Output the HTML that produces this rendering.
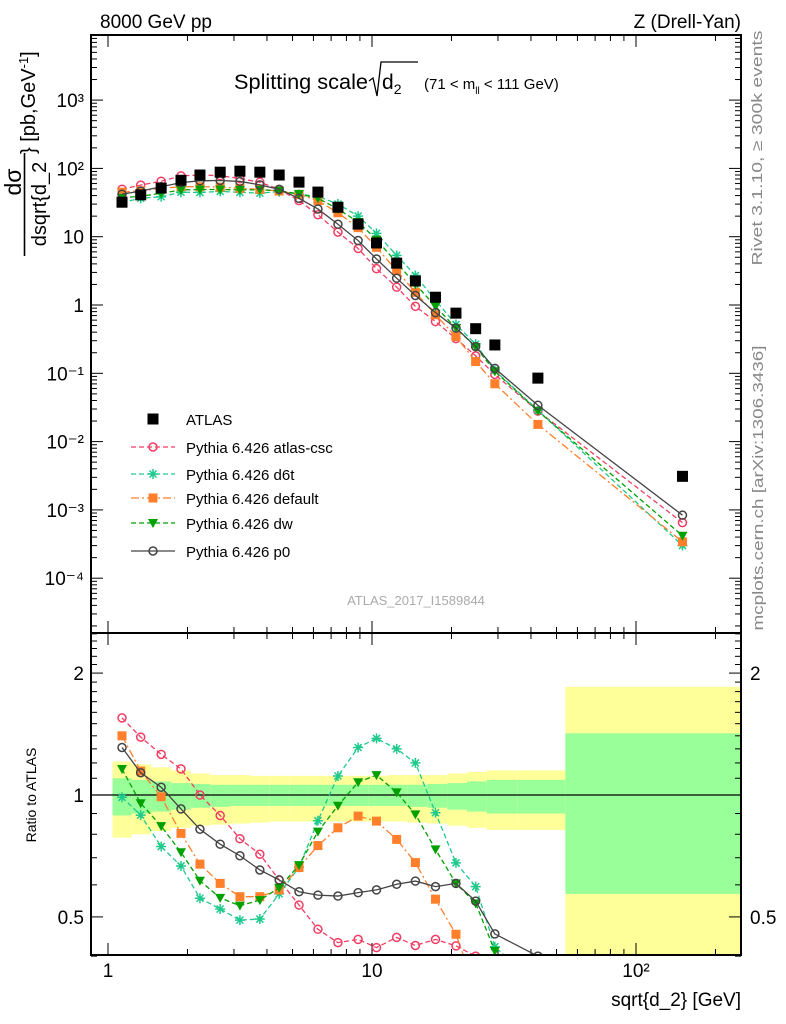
<!DOCTYPE html>
<html><head><meta charset="utf-8"><style>
html,body{margin:0;padding:0;background:#fff;width:786px;height:1024px;overflow:hidden}
svg{display:block;font-family:"Liberation Sans",sans-serif}
</style></head><body>
<svg id="c" width="786" height="1024" viewBox="0 0 786 1024" xmlns="http://www.w3.org/2000/svg">
<g id="bands"></g>
<g id="ticks"></g>
<g id="series"></g>
<rect x="91" y="35" width="650" height="598" fill="none" stroke="#000" stroke-width="2"/>
<rect x="91" y="633" width="650" height="322" fill="none" stroke="#000" stroke-width="2"/>
<text x="100" y="28" font-size="19">8000 GeV pp</text>
<text x="741" y="28" font-size="19" text-anchor="end">Z (Drell-Yan)</text>
<g>
<text x="234" y="89" font-size="21" textLength="134" lengthAdjust="spacingAndGlyphs">Splitting scale</text>
<path d="M369,81 L373,78 L377,96 L381,62 L418,62" fill="none" stroke="#000" stroke-width="1.3"/>
<text x="382" y="89" font-size="21">d<tspan font-size="14" dy="5">2</tspan></text>
<text x="424" y="89" font-size="15">(71 &lt; m<tspan font-size="10" dy="5">ll</tspan><tspan dy="-5"> &lt; 111 GeV)</tspan></text>
</g>
<text transform="translate(762,148) rotate(-90)" font-size="15" fill="#888" text-anchor="middle" textLength="235" lengthAdjust="spacingAndGlyphs">Rivet 3.1.10, ≥ 300k events</text>
<text transform="translate(763,488) rotate(-90)" font-size="15" fill="#888" text-anchor="middle" textLength="285" lengthAdjust="spacingAndGlyphs">mcplots.cern.ch [arXiv:1306.3436]</text>
<text x="416" y="605" font-size="13" fill="#aaa" text-anchor="middle">ATLAS_2017_I1589844</text>
<g>
<text transform="translate(21,182) rotate(-90)" font-size="23" text-anchor="middle">dσ</text>
<line x1="24.5" y1="153" x2="24.5" y2="256" stroke="#000" stroke-width="1.6"/>
<text transform="translate(46,204) rotate(-90)" font-size="20" text-anchor="middle">dsqrt{d_2</text>
<text transform="translate(35,154) rotate(-90)" font-size="20">} [pb,GeV<tspan font-size="13" dy="-7">-1</tspan><tspan dy="7">]</tspan></text>
</g>
<text transform="translate(36,795) rotate(-90)" font-size="14" text-anchor="middle">Ratio to ATLAS</text>
<text x="741" y="1006" font-size="19" text-anchor="end">sqrt{d_2} [GeV]</text>
<g id="legend"></g>
</svg>
<script>
const xVals=[1.13,1.33,1.59,1.89,2.23,2.66,3.16,3.76,4.45,5.29,6.24,7.43,8.86,10.4,12.4,14.6,17.4,20.8,24.7,29.2,42.5,150];
const atlas=[32,41,51.5,67,80,88,91,88,80,63,45,27,15.3,8.1,4.1,2.25,1.3,0.76,0.45,0.26,0.085,0.0031];
const rCsc=[1.55,1.39,1.26,1.16,1.0,0.89,0.78,0.714,0.617,0.535,0.466,0.432,0.44,0.42,0.445,0.425,0.44,0.424,0.40,0.37,0.33,0.21];
const rD6t=[0.987,0.892,0.746,0.668,0.556,0.523,0.491,0.494,0.57,0.663,0.864,1.114,1.31,1.38,1.30,1.20,0.904,0.68,0.594,0.422,0.34,0.097];
const rDef=[1.40,1.146,0.99,0.804,0.675,0.605,0.561,0.561,0.583,0.662,0.75,0.83,0.887,0.862,0.777,0.681,0.553,0.453,0.33,0.27,0.21,0.11];
const rDw=[1.159,0.954,0.838,0.722,0.614,0.557,0.533,0.55,0.59,0.671,0.812,0.941,1.075,1.12,1.015,0.896,0.734,0.605,0.54,0.412,0.33,0.135];
const rP0=[1.31,1.135,1.045,0.924,0.823,0.756,0.708,0.653,0.617,0.577,0.566,0.563,0.574,0.583,0.602,0.613,0.594,0.605,0.547,0.454,0.40,0.27];
const binEdges=[1.04,1.23,1.46,1.73,2.06,2.44,2.9,3.45,4.1,4.86,5.77,6.86,8.15,9.68,11.5,13.6,16.2,19.3,22.9,27.2,35.5,54,250];
const yelUp=[1.21,1.19,1.17,1.15,1.13,1.12,1.12,1.115,1.115,1.115,1.115,1.115,1.115,1.115,1.12,1.12,1.12,1.13,1.14,1.15,1.15,1.85];
const yelDn=[0.785,0.8,0.815,0.83,0.84,0.845,0.85,0.855,0.86,0.86,0.86,0.86,0.86,0.86,0.86,0.855,0.85,0.84,0.83,0.82,0.82,0.3];
const grnUp=[1.10,1.09,1.08,1.07,1.065,1.06,1.06,1.06,1.06,1.06,1.06,1.06,1.06,1.06,1.06,1.06,1.065,1.07,1.08,1.09,1.09,1.42];
const grnDn=[0.89,0.9,0.91,0.92,0.93,0.935,0.94,0.94,0.94,0.94,0.94,0.94,0.94,0.94,0.94,0.935,0.93,0.92,0.91,0.9,0.9,0.57];
const xTickLabels=["1","10","10²"];
const yTickLabels=["10⁻⁴","10⁻³","10⁻²","10⁻¹","1","10","10²","10³"];
const rTickLabels=["0.5","1","2"];

const NS="http://www.w3.org/2000/svg";
const X=v=>108+264*Math.log10(v);
const Y=v=>305-68.3*Math.log10(v);
const R=v=>795-405*Math.log10(v);
function mk(tag,attrs,parent){const e=document.createElementNS(NS,tag);for(const k in attrs)e.setAttribute(k,attrs[k]);parent.appendChild(e);return e;}
const svg=document.getElementById('c');
const gB=document.getElementById('bands'),gT=document.getElementById('ticks'),gS=document.getElementById('series'),gL=document.getElementById('legend');

const clipR=mk('clipPath',{id:'cr'},svg);mk('rect',{x:91,y:633,width:650,height:322},clipR);
const clipM=mk('clipPath',{id:'cm'},svg);mk('rect',{x:91,y:35,width:650,height:598},clipM);
gB.setAttribute('clip-path','url(#cr)');
for(let i=0;i<yelUp.length;i++){
  const x0=X(binEdges[i]),x1=X(binEdges[i+1]);
  const y1=mk('rect',{x:x0,y:R(yelUp[i]),width:x1-x0,height:R(yelDn[i])-R(yelUp[i]),fill:'#ffff99'},gB);
  
  
  const g1=mk('rect',{x:x0,y:R(grnUp[i]),width:x1-x0,height:R(grnDn[i])-R(grnUp[i]),fill:'#99ff99'},gB);
  
  
}
mk('line',{x1:91,y1:R(1),x2:741,y2:R(1),stroke:'#000','stroke-width':1.3},gB);

for(let d=0;d<=2;d++){for(let m=1;m<=9;m++){const v=m*Math.pow(10,d);if(v<0.87||v>250)continue;const x=X(v);const L=m===1?12:6;
  mk('line',{x1:x,y1:955,x2:x,y2:955-L,stroke:'#000'},gT);mk('line',{x1:x,y1:633,x2:x,y2:633-L,stroke:'#000'},gT);
  mk('line',{x1:x,y1:633,x2:x,y2:633+L,stroke:'#000'},gT);mk('line',{x1:x,y1:35,x2:x,y2:35+L,stroke:'#000'},gT);}}
xTickLabels.forEach((t,i)=>{const e=mk('text',{x:X(Math.pow(10,i)),y:977,'font-size':19,'text-anchor':'middle'},gT);e.textContent=t;
  
  });
for(let d=-5;d<=3;d++){for(let m=1;m<=9;m++){const v=m*Math.pow(10,d);const y=Y(v);if(y<35||y>633)continue;const L=m===1?12:6;
  mk('line',{x1:91,y1:y,x2:91+L,y2:y,stroke:'#000'},gT);mk('line',{x1:741,y1:y,x2:741-L,y2:y,stroke:'#000'},gT);}}
yTickLabels.forEach((t,i)=>{const e=mk('text',{x:84,y:Y(Math.pow(10,i-4))+7,'font-size':19,'text-anchor':'end'},gT);e.textContent=t;
  
  });
for(let v=0.4;v<=2.5;v=Math.round((v+0.1)*10)/10){const y=R(v);const maj=(v===0.5||v===1||v===2);const L=maj?12:6;
  mk('line',{x1:91,y1:y,x2:91+L,y2:y,stroke:'#000'},gT);mk('line',{x1:741,y1:y,x2:741-L,y2:y,stroke:'#000'},gT);}
rTickLabels.forEach(t=>{const v=parseFloat(t);
  const e=mk('text',{x:84,y:R(v)+7,'font-size':19,'text-anchor':'end'},gT);e.textContent=t;
  
  
  if(v!==1){const e2=mk('text',{x:750,y:R(v)+7,'font-size':19},gT);e2.textContent=t;
  
  }});

function marker(type,x,y,col,g){
  if(type==='sq')return mk('rect',{x:x-5.5,y:y-5.5,width:11,height:11,fill:'#000'},g);
  if(type==='circ')return mk('circle',{cx:x,cy:y,r:4,fill:'none',stroke:col,'stroke-width':1.5},g);
  if(type==='fsq')return mk('rect',{x:x-4.5,y:y-4.5,width:9,height:9,fill:col},g);
  if(type==='tri')return mk('path',{d:`M${x-5},${y-4}L${x+5},${y-4}L${x},${y+5}Z`,fill:col},g);
  if(type==='star')return mk('path',{d:`M${x-5},${y}L${x+5},${y}M${x},${y-5}L${x},${y+5}M${x-3.5},${y-3.5}L${x+3.5},${y+3.5}M${x-3.5},${y+3.5}L${x+3.5},${y-3.5}`,stroke:col,'stroke-width':1.5},g);
}
const mcs=[
 {name:'Pythia 6.426 atlas-csc',r:rCsc,col:'#f23d63',mk:'circ',dash:'5,3',id:'atlas-csc'},
 {name:'Pythia 6.426 d6t',r:rD6t,col:'#1ec98c',mk:'star',dash:'5,3',id:'d6t'},
 {name:'Pythia 6.426 default',r:rDef,col:'#ff7f2a',mk:'fsq',dash:'8,3,2,3',id:'default'},
 {name:'Pythia 6.426 dw',r:rDw,col:'#00a000',mk:'tri',dash:'5,3',id:'dw'},
 {name:'Pythia 6.426 p0',r:rP0,col:'#444',mk:'circ',dash:'',id:'p0'}
];
const gM=mk('g',{'clip-path':'url(#cm)'},gS);
const gR=mk('g',{'clip-path':'url(#cr)'},gS);
mcs.forEach(s=>{
  const ptsM=xVals.map((x,i)=>[X(x),Y(atlas[i]*s.r[i])]);
  const ptsR=xVals.map((x,i)=>[X(x),R(s.r[i])]);
  const la={fill:'none',stroke:s.col,'stroke-width':1.3};if(s.dash)la['stroke-dasharray']=s.dash;
  const l1=mk('polyline',Object.assign({points:ptsM.map(p=>p.join(',')).join(' ')},la),gM);
  
  
  const l2=mk('polyline',Object.assign({points:ptsR.map(p=>p.join(',')).join(' ')},la),gR);
  
  
  ptsM.forEach(p=>{const e=marker(s.mk,p[0],p[1],s.col,gM);
    
    });
  ptsR.forEach(p=>{const e=marker(s.mk,p[0],p[1],s.col,gR);
    
    });
});
xVals.forEach((x,i)=>{const e=marker('sq',X(x),Y(atlas[i]),'#000',gM);
  
  });

const legY=[419,447,474,498,523,551];
const t0=mk('text',{x:186,y:legY[0]+6,'font-size':15},gL);t0.textContent='ATLAS';


marker('sq',153,legY[0],'#000',gL);
mcs.forEach((s,i)=>{const y=legY[i+1];
  const la={x1:131,y1:y,x2:175,y2:y,stroke:s.col,'stroke-width':1.3};if(s.dash)la['stroke-dasharray']=s.dash;
  mk('line',la,gL);marker(s.mk,153,y,s.col,gL);
  const t=mk('text',{x:186,y:y+6,'font-size':15},gL);t.textContent=s.name;
  
  });
</script>
</body></html>
